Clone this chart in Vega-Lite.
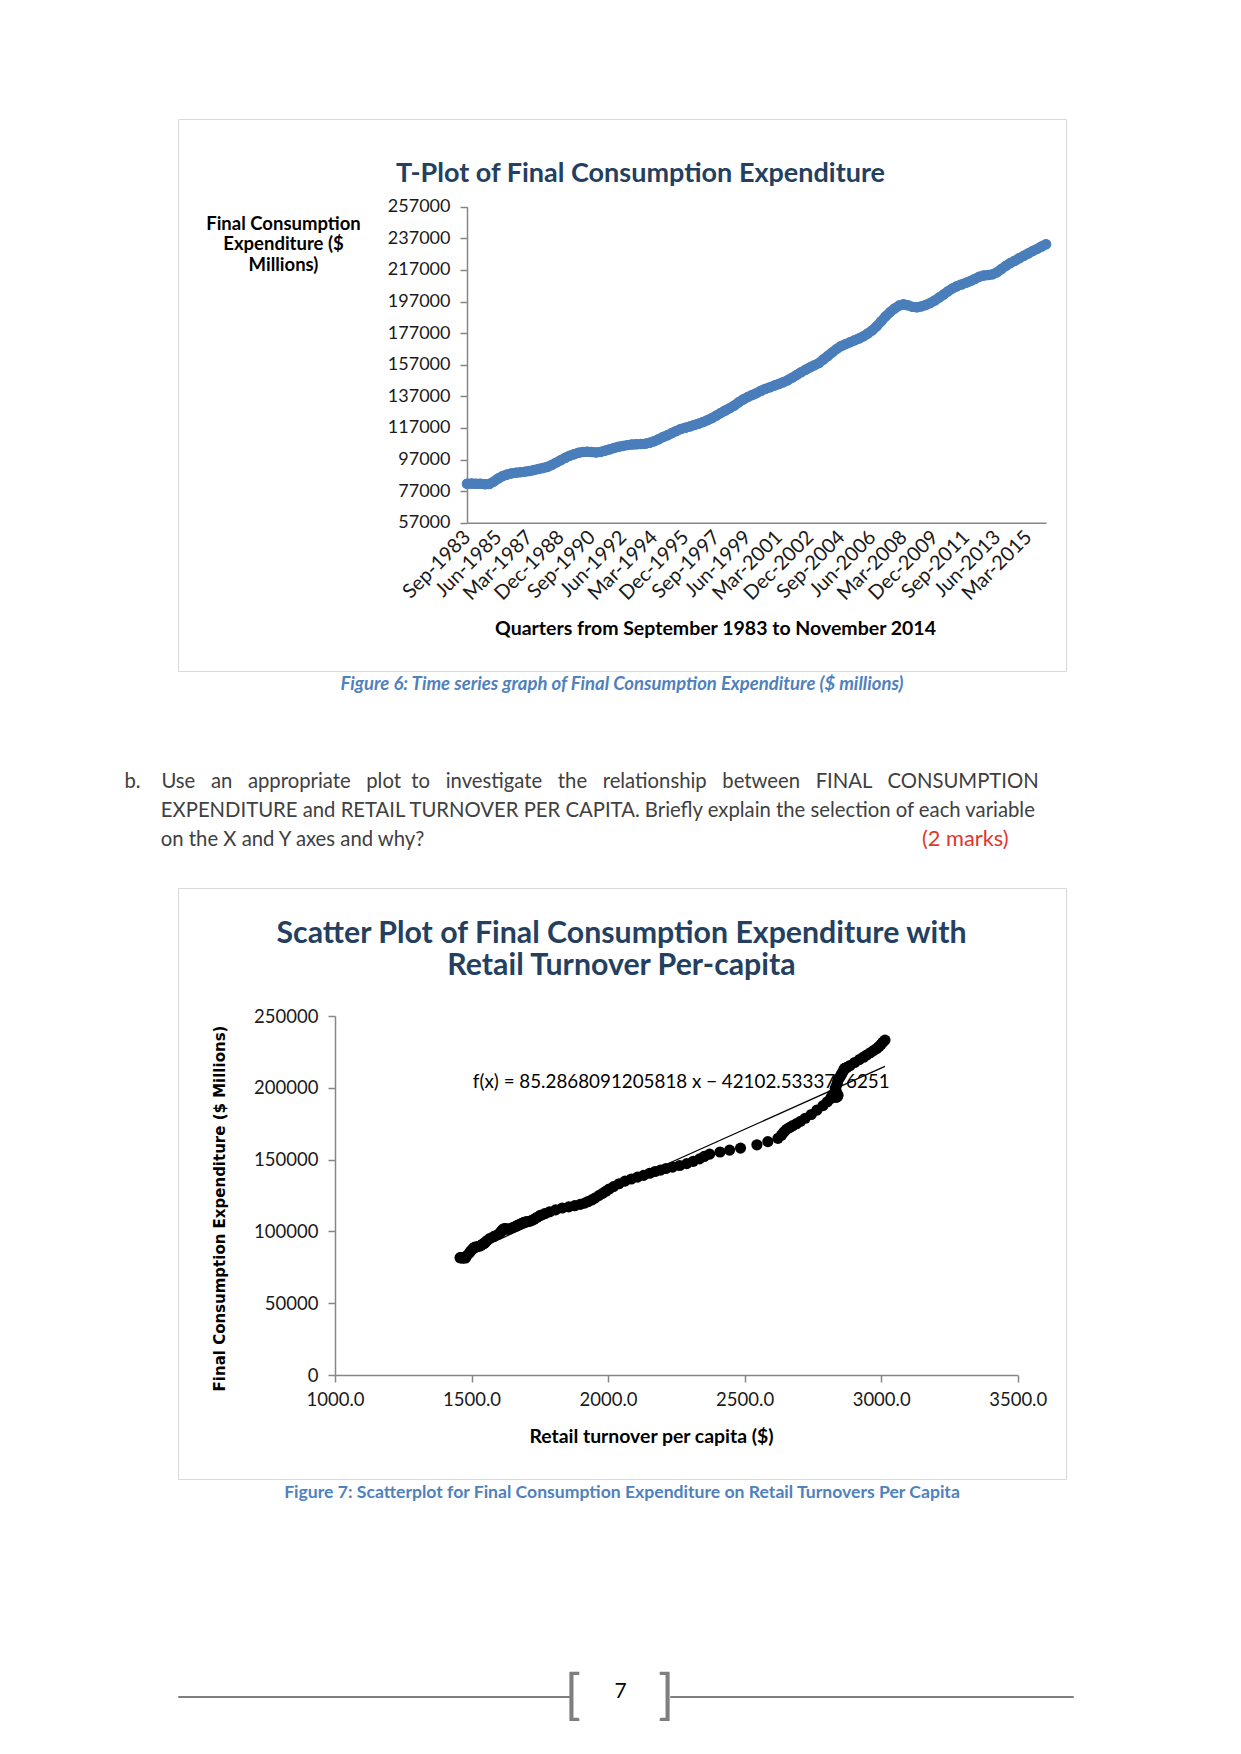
{
  "$schema": "https://vega.github.io/schema/vega-lite/v6.json",
  "background": "white",
  "padding": {"left": 123, "top": 118, "right": 10, "bottom": 10},
  "config": {
    "font": "Lato",
    "view": {"stroke": "#D9D9D9", "strokeWidth": 1},
    "axis": {"grid": false, "labelFont": "Lato", "titleFont": "Lato", "domainColor": "#868686", "domainWidth": 1.5, "tickColor": "#868686", "tickWidth": 1.5, "labelColor": "#1a1a1a", "titleColor": "#000000"}
  },
  "datasets": {
    "series": [
      {"date": "1983-09-01", "fce": 81700, "rt": 1458},
      {"date": "1983-12-01", "fce": 81800, "rt": 1462},
      {"date": "1984-03-01", "fce": 81700, "rt": 1466},
      {"date": "1984-06-01", "fce": 81600, "rt": 1460},
      {"date": "1984-09-01", "fce": 81400, "rt": 1470},
      {"date": "1984-12-01", "fce": 81500, "rt": 1478},
      {"date": "1985-03-01", "fce": 83000, "rt": 1482},
      {"date": "1985-06-01", "fce": 85000, "rt": 1492},
      {"date": "1985-09-01", "fce": 86500, "rt": 1498},
      {"date": "1985-12-01", "fce": 87500, "rt": 1503},
      {"date": "1986-03-01", "fce": 88200, "rt": 1507},
      {"date": "1986-06-01", "fce": 88600, "rt": 1510},
      {"date": "1986-09-01", "fce": 89000, "rt": 1512},
      {"date": "1986-12-01", "fce": 89300, "rt": 1520},
      {"date": "1987-03-01", "fce": 89700, "rt": 1528},
      {"date": "1987-06-01", "fce": 90300, "rt": 1535},
      {"date": "1987-09-01", "fce": 91000, "rt": 1540},
      {"date": "1987-12-01", "fce": 91600, "rt": 1546},
      {"date": "1988-03-01", "fce": 92300, "rt": 1550},
      {"date": "1988-06-01", "fce": 93500, "rt": 1556},
      {"date": "1988-09-01", "fce": 95000, "rt": 1566},
      {"date": "1988-12-01", "fce": 96500, "rt": 1582},
      {"date": "1989-03-01", "fce": 98000, "rt": 1598},
      {"date": "1989-06-01", "fce": 99300, "rt": 1606},
      {"date": "1989-09-01", "fce": 100300, "rt": 1610},
      {"date": "1989-12-01", "fce": 101200, "rt": 1614},
      {"date": "1990-03-01", "fce": 101800, "rt": 1618},
      {"date": "1990-06-01", "fce": 101900, "rt": 1622},
      {"date": "1990-09-01", "fce": 101700, "rt": 1628},
      {"date": "1990-12-01", "fce": 101500, "rt": 1632},
      {"date": "1991-03-01", "fce": 101800, "rt": 1640},
      {"date": "1991-06-01", "fce": 102600, "rt": 1650},
      {"date": "1991-09-01", "fce": 103400, "rt": 1660},
      {"date": "1991-12-01", "fce": 104300, "rt": 1668},
      {"date": "1992-03-01", "fce": 105000, "rt": 1676},
      {"date": "1992-06-01", "fce": 105600, "rt": 1684},
      {"date": "1992-09-01", "fce": 106100, "rt": 1690},
      {"date": "1992-12-01", "fce": 106500, "rt": 1696},
      {"date": "1993-03-01", "fce": 106700, "rt": 1700},
      {"date": "1993-06-01", "fce": 106800, "rt": 1706},
      {"date": "1993-09-01", "fce": 107000, "rt": 1712},
      {"date": "1993-12-01", "fce": 107600, "rt": 1720},
      {"date": "1994-03-01", "fce": 108500, "rt": 1729},
      {"date": "1994-06-01", "fce": 109800, "rt": 1740},
      {"date": "1994-09-01", "fce": 111200, "rt": 1752},
      {"date": "1994-12-01", "fce": 112400, "rt": 1768},
      {"date": "1995-03-01", "fce": 113700, "rt": 1786},
      {"date": "1995-06-01", "fce": 115000, "rt": 1808},
      {"date": "1995-09-01", "fce": 116300, "rt": 1832},
      {"date": "1995-12-01", "fce": 117100, "rt": 1856},
      {"date": "1996-03-01", "fce": 117900, "rt": 1878},
      {"date": "1996-06-01", "fce": 118800, "rt": 1898},
      {"date": "1996-09-01", "fce": 119700, "rt": 1914},
      {"date": "1996-12-01", "fce": 120700, "rt": 1926},
      {"date": "1997-03-01", "fce": 121900, "rt": 1940},
      {"date": "1997-06-01", "fce": 123200, "rt": 1952},
      {"date": "1997-09-01", "fce": 124900, "rt": 1966},
      {"date": "1997-12-01", "fce": 126500, "rt": 1980},
      {"date": "1998-03-01", "fce": 128000, "rt": 1992},
      {"date": "1998-06-01", "fce": 129500, "rt": 2004},
      {"date": "1998-09-01", "fce": 131200, "rt": 2020},
      {"date": "1998-12-01", "fce": 133200, "rt": 2040},
      {"date": "1999-03-01", "fce": 135000, "rt": 2062},
      {"date": "1999-06-01", "fce": 136500, "rt": 2085},
      {"date": "1999-09-01", "fce": 137800, "rt": 2108},
      {"date": "1999-12-01", "fce": 139000, "rt": 2130},
      {"date": "2000-03-01", "fce": 140500, "rt": 2152},
      {"date": "2000-06-01", "fce": 141700, "rt": 2172},
      {"date": "2000-09-01", "fce": 142700, "rt": 2192},
      {"date": "2000-12-01", "fce": 143800, "rt": 2212},
      {"date": "2001-03-01", "fce": 144800, "rt": 2236},
      {"date": "2001-06-01", "fce": 145900, "rt": 2262},
      {"date": "2001-09-01", "fce": 147200, "rt": 2288},
      {"date": "2001-12-01", "fce": 148800, "rt": 2312},
      {"date": "2002-03-01", "fce": 150500, "rt": 2335},
      {"date": "2002-06-01", "fce": 152200, "rt": 2352},
      {"date": "2002-09-01", "fce": 153800, "rt": 2372},
      {"date": "2002-12-01", "fce": 155300, "rt": 2410},
      {"date": "2003-03-01", "fce": 156600, "rt": 2445},
      {"date": "2003-06-01", "fce": 158000, "rt": 2485},
      {"date": "2003-09-01", "fce": 160300, "rt": 2545},
      {"date": "2003-12-01", "fce": 162500, "rt": 2585},
      {"date": "2004-03-01", "fce": 164800, "rt": 2622},
      {"date": "2004-06-01", "fce": 167000, "rt": 2635},
      {"date": "2004-09-01", "fce": 168800, "rt": 2642},
      {"date": "2004-12-01", "fce": 170000, "rt": 2648},
      {"date": "2005-03-01", "fce": 171200, "rt": 2655},
      {"date": "2005-06-01", "fce": 172400, "rt": 2665},
      {"date": "2005-09-01", "fce": 173600, "rt": 2676},
      {"date": "2005-12-01", "fce": 175000, "rt": 2690},
      {"date": "2006-03-01", "fce": 176700, "rt": 2705},
      {"date": "2006-06-01", "fce": 178800, "rt": 2722},
      {"date": "2006-09-01", "fce": 181400, "rt": 2744},
      {"date": "2006-12-01", "fce": 184500, "rt": 2765},
      {"date": "2007-03-01", "fce": 187600, "rt": 2787},
      {"date": "2007-06-01", "fce": 190300, "rt": 2803},
      {"date": "2007-09-01", "fce": 192600, "rt": 2815},
      {"date": "2007-12-01", "fce": 194400, "rt": 2820},
      {"date": "2008-03-01", "fce": 195200, "rt": 2822},
      {"date": "2008-06-01", "fce": 194600, "rt": 2826},
      {"date": "2008-09-01", "fce": 193600, "rt": 2830},
      {"date": "2008-12-01", "fce": 193300, "rt": 2836},
      {"date": "2009-03-01", "fce": 193900, "rt": 2840},
      {"date": "2009-06-01", "fce": 194800, "rt": 2842},
      {"date": "2009-09-01", "fce": 196100, "rt": 2838},
      {"date": "2009-12-01", "fce": 197600, "rt": 2835},
      {"date": "2010-03-01", "fce": 199500, "rt": 2832},
      {"date": "2010-06-01", "fce": 201400, "rt": 2836},
      {"date": "2010-09-01", "fce": 203500, "rt": 2840},
      {"date": "2010-12-01", "fce": 205300, "rt": 2842},
      {"date": "2011-03-01", "fce": 206700, "rt": 2846},
      {"date": "2011-06-01", "fce": 207800, "rt": 2850},
      {"date": "2011-09-01", "fce": 208800, "rt": 2853},
      {"date": "2011-12-01", "fce": 209900, "rt": 2856},
      {"date": "2012-03-01", "fce": 211200, "rt": 2860},
      {"date": "2012-06-01", "fce": 212700, "rt": 2864},
      {"date": "2012-09-01", "fce": 213500, "rt": 2866},
      {"date": "2012-12-01", "fce": 213800, "rt": 2870},
      {"date": "2013-03-01", "fce": 214200, "rt": 2875},
      {"date": "2013-06-01", "fce": 215500, "rt": 2886},
      {"date": "2013-09-01", "fce": 217600, "rt": 2903},
      {"date": "2013-12-01", "fce": 219600, "rt": 2920},
      {"date": "2014-03-01", "fce": 221300, "rt": 2935},
      {"date": "2014-06-01", "fce": 222800, "rt": 2947},
      {"date": "2014-09-01", "fce": 224400, "rt": 2960},
      {"date": "2014-12-01", "fce": 225900, "rt": 2972},
      {"date": "2015-03-01", "fce": 227400, "rt": 2984},
      {"date": "2015-06-01", "fce": 228900, "rt": 2993},
      {"date": "2015-09-01", "fce": 230300, "rt": 3000},
      {"date": "2015-12-01", "fce": 231800, "rt": 3007},
      {"date": "2016-03-01", "fce": 233200, "rt": 3014}
    ],
    "trend": [
      {"rt": 1458, "fce": 82246},
      {"rt": 3014, "fce": 214952}
    ]
  },
  "spacing": 217,
  "bounds": "flush",
  "vconcat": [
    {
      "width": 888,
      "height": 552,
      "data": {"name": "series"},
      "title": {"text": "T-Plot of Final Consumption Expenditure", "orient": "top", "anchor": "middle", "frame": "group", "dx": 18.5, "offset": -90, "baseline": "alphabetic", "font": "Lato", "fontSize": 27, "fontWeight": "bold", "color": "#243F60"},
      "resolve": {"axis": {"x": "independent", "y": "independent"}},
      "layer": [
        {
          "mark": {"type": "line", "color": "#4A7EBB", "strokeWidth": 10, "strokeCap": "round", "strokeJoin": "round"},
          "encoding": {
            "x": {
              "field": "date", "type": "temporal",
              "scale": {"type": "utc", "domain": [{"year": 1983, "month": 9, "date": 1, "utc": true}, {"year": 2016, "month": 3, "date": 1, "utc": true}], "range": [289, 868], "nice": false},
              "axis": {
                "orient": "bottom", "offset": -148.3,
                "values": [
                  {"year": 1983, "month": 9, "date": 1, "utc": true},
                  {"year": 1985, "month": 6, "date": 1, "utc": true},
                  {"year": 1987, "month": 3, "date": 1, "utc": true},
                  {"year": 1988, "month": 12, "date": 1, "utc": true},
                  {"year": 1990, "month": 9, "date": 1, "utc": true},
                  {"year": 1992, "month": 6, "date": 1, "utc": true},
                  {"year": 1994, "month": 3, "date": 1, "utc": true},
                  {"year": 1995, "month": 12, "date": 1, "utc": true},
                  {"year": 1997, "month": 9, "date": 1, "utc": true},
                  {"year": 1999, "month": 6, "date": 1, "utc": true},
                  {"year": 2001, "month": 3, "date": 1, "utc": true},
                  {"year": 2002, "month": 12, "date": 1, "utc": true},
                  {"year": 2004, "month": 9, "date": 1, "utc": true},
                  {"year": 2006, "month": 6, "date": 1, "utc": true},
                  {"year": 2008, "month": 3, "date": 1, "utc": true},
                  {"year": 2009, "month": 12, "date": 1, "utc": true},
                  {"year": 2011, "month": 9, "date": 1, "utc": true},
                  {"year": 2013, "month": 6, "date": 1, "utc": true},
                  {"year": 2015, "month": 3, "date": 1, "utc": true}
                ],
                "format": "%b-%Y", "labelAngle": -45, "labelAlign": "right", "labelBaseline": "middle",
                "labelFontSize": 20, "labelPadding": 11, "labelOverlap": false, "labelFlush": false,
                "ticks": false,
                "title": "Quarters from September 1983 to November 2014",
                "titleFontSize": 19.5, "titleFontWeight": "bold",
                "titleX": 537, "titleY": 111.6, "titleAlign": "center", "titleBaseline": "alphabetic"
              }
            },
            "y": {
              "field": "fce", "type": "quantitative",
              "scale": {"domain": [57000, 257000], "range": [403.7, 87.7], "nice": false, "zero": false},
              "axis": {
                "orient": "left", "offset": -289,
                "values": [57000, 77000, 97000, 117000, 137000, 157000, 177000, 197000, 217000, 237000, 257000],
                "format": "d", "labelFontSize": 18, "tickSize": 7, "labelPadding": 10,
                "title": ["Final Consumption", "Expenditure ($", "Millions)"],
                "titleAngle": 0, "titleX": -184, "titleY": 110.3, "titleAlign": "center", "titleBaseline": "alphabetic",
                "titleLineHeight": 20.5, "titleFontSize": 18.5, "titleFontWeight": "bold"
              }
            }
          }
        },
        {
          "mark": {"type": "point", "filled": true, "color": "#4A7EBB", "size": 110, "opacity": 1},
          "encoding": {
            "x": {
              "field": "date", "type": "temporal",
              "axis": {
                "orient": "top", "domain": false, "ticks": false, "labels": false,
                "title": "Figure 6: Time series graph of Final Consumption Expenditure ($ millions)",
                "titleX": 443.5, "titleY": 570.3, "titleAlign": "center", "titleBaseline": "alphabetic",
                "titleFontSize": 18.5, "titleFontWeight": "bold", "titleFontStyle": "italic", "titleColor": "#4F81BD"
              }
            },
            "y": {
              "field": "fce", "type": "quantitative",
              "axis": {
                "orient": "right", "domain": false, "ticks": false, "labels": false,
                "title": [
                  "b.\u00a0\u00a0\u00a0\u00a0Use\u00a0\u00a0\u00a0an\u00a0\u00a0\u00a0appropriate\u00a0\u00a0\u00a0plot\u00a0\u00a0to\u00a0\u00a0\u00a0investigate\u00a0\u00a0\u00a0the\u00a0\u00a0\u00a0relationship\u00a0\u00a0\u00a0between\u00a0\u00a0\u00a0FINAL\u00a0\u00a0\u00a0CONSUMPTION",
                  "\u200b\u00a0\u00a0\u00a0\u00a0\u00a0\u00a0\u00a0EXPENDITURE and RETAIL TURNOVER PER CAPITA. Briefly explain the selection of each variable",
                  "\u200b\u00a0\u00a0\u00a0\u00a0\u00a0\u00a0\u00a0on the X and Y axes and why?"
                ],
                "titleAngle": 0, "titleX": -942, "titleY": 668, "titleAlign": "left", "titleBaseline": "alphabetic",
                "titleLineHeight": 29, "titleFontSize": 20.3, "titleFontWeight": "normal", "titleColor": "#404040"
              }
            }
          }
        }
      ]
    },
    {
      "width": 888,
      "height": 591,
      "title": {"text": "Figure 7: Scatterplot for Final Consumption Expenditure  on Retail Turnovers Per Capita", "orient": "bottom", "anchor": "middle", "frame": "group", "offset": 19, "baseline": "alphabetic", "font": "Lato", "fontSize": 17.6, "fontWeight": "bold", "color": "#4F81BD"},
      "resolve": {"axis": {"x": "independent", "y": "independent"}},
      "layer": [
        {
          "data": {"values": [{"label": "f(x) = 85.2868091205818 x − 42102.5333776251"}]},
          "mark": {"type": "text", "align": "center", "baseline": "alphabetic", "fontSize": 18.8, "font": "Lato", "color": "#000000"},
          "encoding": {
            "x": {"datum": 2268, "type": "quantitative", "axis": null},
            "y": {"datum": 200000, "type": "quantitative", "axis": null},
            "text": {"field": "label"}
          }
        },
        {
          "data": {"name": "series"},
          "mark": {"type": "point", "filled": true, "color": "#000000", "size": 125, "opacity": 1},
          "encoding": {
            "x": {
              "field": "rt", "type": "quantitative",
              "scale": {"domain": [1000, 3500], "range": [157, 839.7], "nice": false, "zero": false},
              "axis": {
                "orient": "bottom", "offset": -104,
                "values": [1000, 1500, 2000, 2500, 3000, 3500], "format": ".1f",
                "labelFontSize": 18.5, "tickSize": 7, "labelPadding": 8, "labelFlush": false, "labelOverlap": false,
                "title": "Retail turnover per capita ($)",
                "titleX": 473, "titleY": 67.7, "titleAlign": "center", "titleBaseline": "alphabetic",
                "titleFontSize": 19.4, "titleFontWeight": "bold"
              }
            },
            "y": {
              "field": "fce", "type": "quantitative",
              "scale": {"domain": [0, 250000], "range": [487, 128], "nice": false},
              "axis": {
                "orient": "left", "offset": -157,
                "values": [0, 50000, 100000, 150000, 200000, 250000], "format": "d",
                "labelFontSize": 18.5, "tickSize": 7, "labelPadding": 10,
                "title": "Final Consumption Expenditure ($ Millions)",
                "titleFont": "DejaVu Sans", "titleFontSize": 15, "titleFontWeight": "bold",
                "titleAngle": -90, "titleX": -116, "titleY": 320, "titleAlign": "center", "titleBaseline": "middle"
              }
            }
          }
        },
        {
          "data": {"name": "trend"},
          "mark": {"type": "line", "color": "#000000", "strokeWidth": 1.3},
          "encoding": {
            "x": {
              "field": "rt", "type": "quantitative",
              "axis": {
                "orient": "top", "domain": false, "ticks": false, "labels": false,
                "title": ["Scatter Plot of Final Consumption Expenditure with", "Retail Turnover Per-capita"],
                "titleX": 443, "titleY": 54, "titleAlign": "center", "titleBaseline": "alphabetic",
                "titleLineHeight": 32.6, "titleFontSize": 30.3, "titleFontWeight": "bold", "titleColor": "#243F60"
              }
            },
            "y": {
              "field": "fce", "type": "quantitative",
              "axis": {
                "orient": "right", "domain": false, "ticks": false, "labels": false,
                "title": "(2 marks)",
                "titleAngle": 0, "titleX": -58, "titleY": -43, "titleAlign": "right", "titleBaseline": "alphabetic",
                "titleFontSize": 21.8, "titleFontWeight": "normal", "titleColor": "#E0352B"
              }
            }
          }
        }
      ]
    },
    {
      "spacing": 99,
      "bounds": "flush",
      "title": {"text": "7", "orient": "top", "anchor": "middle", "baseline": "middle", "offset": 0, "dy": 43.5, "dx": -5, "font": "Lato", "fontSize": 21, "fontWeight": "normal", "color": "#000000"},
      "hconcat": [
        {
          "width": 393, "height": 1,
          "data": {"values": []},
          "mark": "point",
          "view": {"stroke": "#7F7F7F", "strokeWidth": 1},
          "title": {"text": "[", "orient": "right", "angle": 0, "align": "left", "baseline": "middle", "anchor": "middle", "offset": -23, "font": "Lato", "fontSize": 54, "fontWeight": "normal", "color": "#7F7F7F"}
        },
        {
          "width": 403, "height": 1,
          "data": {"values": []},
          "mark": "point",
          "view": {"stroke": "#7F7F7F", "strokeWidth": 1},
          "title": {"text": "]", "orient": "left", "angle": 0, "align": "right", "baseline": "middle", "anchor": "middle", "offset": -21, "font": "Lato", "fontSize": 54, "fontWeight": "normal", "color": "#7F7F7F"}
        }
      ]
    }
  ]
}
